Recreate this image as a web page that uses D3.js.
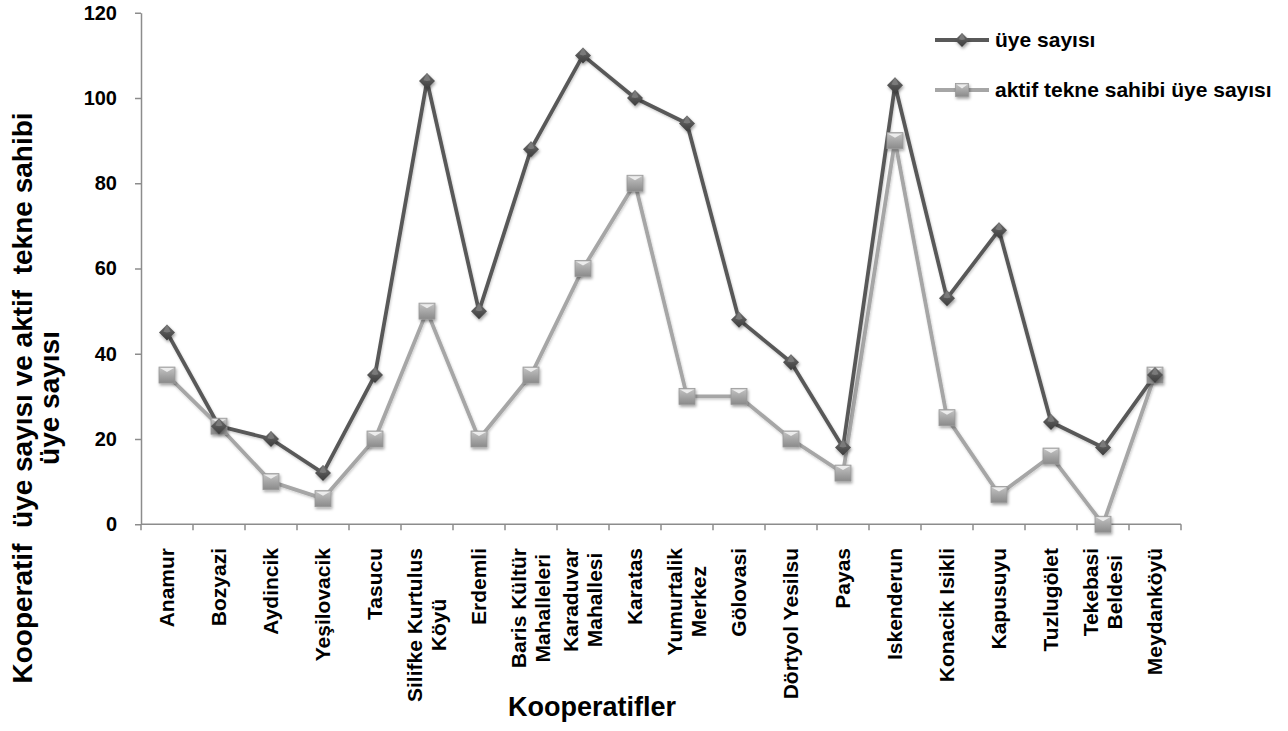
<!DOCTYPE html>
<html>
<head>
<meta charset="utf-8">
<script src="https://cdn.jsdelivr.net/npm/d3@7/dist/d3.min.js"></script>
<style>
  html, body { margin: 0; padding: 0; background: #fff; }
  svg text { font-family: "Liberation Sans", Arial, sans-serif; font-weight: bold; fill: #000; }
</style>
</head>
<body>
<svg id="chart" width="1288" height="731"></svg>
<script>
// Cooperatives (two-line names separated by "\n")
const categories = [
  "Anamur", "Bozyazi", "Aydincik", "Yeşilovacik", "Tasucu",
  "Silifke Kurtulus\nKöyü", "Erdemli", "Baris Kültür\nMahalleleri", "Karaduvar\nMahallesi", "Karatas",
  "Yumurtalik\nMerkez", "Gölovasi", "Dörtyol Yesilsu", "Payas", "Iskenderun",
  "Konacik Isikli", "Kapusuyu", "Tuzlugölet", "Tekebasi\nBeldesi", "Meydanköyü"
];
// Total members
const uyeSayisi = [45, 23, 20, 12, 35, 104, 50, 88, 110, 100, 94, 48, 38, 18, 103, 53, 69, 24, 18, 35];
// Members who actively own a boat
const aktifSayisi = [35, 23, 10, 6, 20, 50, 20, 35, 60, 80, 30, 30, 20, 12, 90, 25, 7, 16, 0, 35];
const yTicks = [0, 20, 40, 60, 80, 100, 120];
const seriesNames = ["üye sayısı", "aktif tekne sahibi üye sayısı"];
const xTitle = "Kooperatifler";
const yTitleLines = ["Kooperatif  üye sayısı ve aktif  tekne sahibi", "üye sayısı"];

const svg = d3.select("#chart");
const plotLeft = 141, plotRight = 1181, plotTop = 12.75, plotBottom = 524.25;

const x = d3.scaleBand().domain(d3.range(categories.length)).range([plotLeft, plotRight]).padding(0);
const y = d3.scaleLinear().domain([0, 120]).range([plotBottom, plotTop]);
const cx = i => x(i) + x.bandwidth() / 2;

const defs = svg.append("defs");
const shadow = defs.append("filter").attr("id", "shadow")
  .attr("x", "-50%").attr("y", "-50%").attr("width", "200%").attr("height", "200%");
shadow.append("feDropShadow").attr("dx", 1).attr("dy", 2).attr("stdDeviation", 1.6)
  .attr("flood-color", "#000").attr("flood-opacity", 0.35);

const lineShadow = defs.append("filter").attr("id", "lineShadow")
  .attr("x", "-10%").attr("y", "-10%").attr("width", "120%").attr("height", "120%");
lineShadow.append("feDropShadow").attr("dx", 0.8).attr("dy", 1.5).attr("stdDeviation", 1.2)
  .attr("flood-color", "#000").attr("flood-opacity", 0.2);

const sqGrad = defs.append("linearGradient").attr("id", "sqGrad")
  .attr("x1", 0).attr("y1", 0).attr("x2", 0).attr("y2", 1);
sqGrad.append("stop").attr("offset", 0).attr("stop-color", "#c4c4c4");
sqGrad.append("stop").attr("offset", 1).attr("stop-color", "#8a8a8a");

const dmGrad = defs.append("linearGradient").attr("id", "dmGrad")
  .attr("x1", 0).attr("y1", 0).attr("x2", 0).attr("y2", 1);
dmGrad.append("stop").attr("offset", 0).attr("stop-color", "#6e6e6e");
dmGrad.append("stop").attr("offset", 1).attr("stop-color", "#3c3c3c");

// Y axis
const yAxis = d3.axisLeft(y).tickValues(yTicks).tickSize(6).tickPadding(18).tickSizeOuter(0);
const gy = svg.append("g").attr("transform", `translate(${plotLeft},0)`).call(yAxis);
gy.select(".domain").attr("stroke", "#8c8c8c").attr("stroke-width", 1.5);
gy.selectAll(".tick line").attr("stroke", "#8c8c8c").attr("stroke-width", 1.5);
gy.selectAll(".tick text").style("font-size", "20px").style("font-weight", "bold")
  .style("font-family", "'Liberation Sans', Arial, sans-serif").attr("fill", "#000");

// X axis: ticks at category boundaries
const gx = svg.append("g");
gx.append("line").attr("x1", plotLeft).attr("x2", plotRight).attr("y1", plotBottom).attr("y2", plotBottom)
  .attr("stroke", "#8c8c8c").attr("stroke-width", 1.5);
gx.selectAll("line.tk").data(d3.range(categories.length + 1)).join("line").attr("class", "tk")
  .attr("x1", i => plotLeft + i * x.bandwidth()).attr("x2", i => plotLeft + i * x.bandwidth())
  .attr("y1", plotBottom).attr("y2", plotBottom + 6)
  .attr("stroke", "#8c8c8c").attr("stroke-width", 1.5);

// Category labels, rotated, end-aligned at top, lines centred within block
const labelTop = 548, lineH = 24;
const lab = svg.append("g").selectAll("g").data(categories).join("g")
  .attr("transform", (d, i) => `translate(${cx(i)},${labelTop}) rotate(-90)`);
lab.each(function(d) {
  const g = d3.select(this);
  const lines = d.split("\n");
  const texts = lines.map((t, j) => g.append("text")
    .style("font-size", "21px")
    .attr("text-anchor", "middle")
    .attr("dy", "0.35em")
    .attr("y", (j - (lines.length - 1) / 2) * lineH)
    .text(t));
  const maxL = d3.max(texts, t => t.node().getComputedTextLength());
  texts.forEach(t => t.attr("x", -maxL / 2));
});

// Lines
const line = d3.line().x((d, i) => cx(i)).y(d => y(d));
svg.append("path").datum(aktifSayisi).attr("d", line)
  .attr("fill", "none").attr("stroke", "#a6a6a6").attr("stroke-width", 3.8)
  .attr("stroke-linejoin", "round").attr("filter", "url(#lineShadow)");
svg.append("path").datum(uyeSayisi).attr("d", line)
  .attr("fill", "none").attr("stroke", "#595959").attr("stroke-width", 3.8)
  .attr("stroke-linejoin", "round").attr("filter", "url(#lineShadow)");

function drawSquare(g, px, py, s) {
  const h = s / 2;
  const m = g.append("g").attr("transform", `translate(${px},${py})`).attr("filter", "url(#shadow)");
  m.append("rect").attr("x", -h).attr("y", -h).attr("width", s).attr("height", s)
    .attr("fill", "url(#sqGrad)").attr("stroke", "#9a9a9a").attr("stroke-width", 0.8);
  m.append("path").attr("d", `M${-h + 1},${-h + 1}L${h - 1},${-h + 1}L0,${-h + 5}Z`).attr("fill", "#f2f2f2").attr("opacity", 0.9);
}
function drawDiamond(g, px, py, s) {
  const h = s / 2;
  const m = g.append("g").attr("transform", `translate(${px},${py})`).attr("filter", "url(#shadow)");
  m.append("path").attr("d", `M0,${-h}L${h},0L0,${h}L${-h},0Z`).attr("fill", "url(#dmGrad)");
  m.append("path").attr("d", `M0,${-h}L${h * 0.45},${-h * 0.1}L0,0L${-h * 0.45},${-h * 0.1}Z`).attr("fill", "#7a7a7a");
}

const markers = svg.append("g");
aktifSayisi.forEach((v, i) => drawSquare(markers, cx(i), y(v), 16));
uyeSayisi.forEach((v, i) => drawDiamond(markers, cx(i), y(v), 16));

// Legend
const leg = svg.append("g");
const legRows = [
  { name: seriesNames[0], color: "#595959", ly: 40, kind: "d" },
  { name: seriesNames[1], color: "#a6a6a6", ly: 90, kind: "s" }
];
legRows.forEach(r => {
  leg.append("line").attr("x1", 935).attr("x2", 989).attr("y1", r.ly).attr("y2", r.ly)
    .attr("stroke", r.color).attr("stroke-width", 3.8);
  if (r.kind === "d") drawDiamond(leg, 962, r.ly, 14); else drawSquare(leg, 962, r.ly, 13);
  leg.append("text").attr("x", 995).attr("y", r.ly).attr("dy", "0.35em")
    .style("font-size", "21px").text(r.name);
});

// Axis titles
svg.append("text").attr("x", 592).attr("y", 716)
  .attr("text-anchor", "middle").style("font-size", "27px").text(xTitle);

const yt = svg.append("g").attr("transform", "translate(22,398) rotate(-90)");
yTitleLines.forEach((t, j) => {
  yt.append("text").attr("x", 0).attr("y", j * 27).attr("dy", "0.35em")
    .attr("text-anchor", "middle").style("font-size", "28px").style("white-space", "pre").text(t);
});
</script>
</body>
</html>
